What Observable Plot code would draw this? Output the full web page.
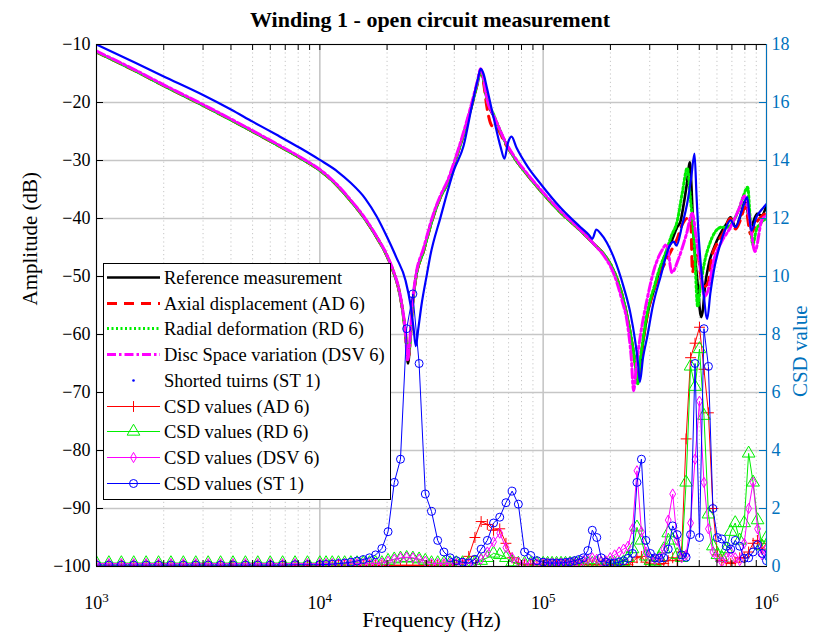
<!DOCTYPE html>
<html><head><meta charset="utf-8">
<script src="https://cdn.jsdelivr.net/npm/d3@7"></script>
<script src="https://cdn.jsdelivr.net/npm/@observablehq/plot@0.6"></script>
<style>
body{margin:0;background:#fff;}
#wrap{position:relative;width:825px;height:635px;font-family:"Liberation Serif",serif;}
#title{position:absolute;left:0;width:860px;top:7px;text-align:center;font-weight:bold;font-size:22px;line-height:26px;}
#legend{position:absolute;left:103px;top:263px;}
</style></head><body>
<div id="wrap"><div id="title">Winding 1 - open circuit measurement</div></div>
<script>
// ---------- tick values / labels ----------
const xMajorTicks = [1000, 10000, 100000, 1000000];
const xTickExponents = ["3", "4", "5", "6"];
const xMinorTicks = [2000,3000,4000,5000,6000,7000,8000,9000,20000,30000,40000,50000,60000,70000,80000,90000,200000,300000,400000,500000,600000,700000,800000,900000];
const yTicks = [-100,-90,-80,-70,-60,-50,-40,-30,-20,-10];
const csdTickLabels = ["0","2","4","6","8","10","12","14","16","18"];

// ---------- amplitude curves [Hz, dB] ----------
const refCurve = [[1000,-11.3],[1500,-14.6],[2000,-17.1],[3000,-20.5],[4000,-23.0],[5000,-25.0],[6500,-27.4],[8450,-29.9],[10000,-31.7],[11000,-33.0],[12000,-34.4],[13700,-36.9],[16000,-40.2],[18070,-43.4],[20000,-46.5],[21400,-49.3],[22500,-52.0],[23400,-55.5],[24200,-60.0],[24800,-65.0],[25400,-61.0],[26000,-55.0],[26800,-50.7],[29200,-45.5],[32000,-40.0],[34700,-36.3],[37200,-34.0],[40000,-30.5],[44100,-25.4],[47500,-21.0],[50700,-16.8],[52500,-14.5],[54000,-16.0],[56100,-19.7],[59900,-22.3],[62200,-23.7],[67000,-26.5],[73900,-29.4],[85000,-32.5],[97300,-35.2],[120000,-39.0],[147000,-42.1],[168600,-44.4],[190000,-46.5],[207000,-49.0],[225000,-53.0],[238000,-57.0],[250000,-61.5],[259000,-65.1],[265500,-68.5],[272000,-65.0],[282000,-60.5],[295000,-56.0],[313000,-52.4],[333000,-48.8],[353000,-46.1],[375000,-44.0],[398000,-41.5],[412000,-40.5],[426000,-37.5],[440000,-34.0],[454000,-30.3],[462000,-35.0],[470000,-42.1],[480000,-47.0],[490000,-50.7],[510000,-57.0],[520000,-55.5],[528000,-52.4],[552000,-47.8],[585000,-44.8],[622000,-42.6],[660000,-41.0],[690000,-39.8],[727000,-41.5],[765000,-39.5],[805000,-36.9],[848000,-41.5],[908000,-39.2],[950000,-39.5],[1000000,-37.8]];

const adCurve = [[1000,-11.3],[1500,-14.6],[2000,-17.1],[3000,-20.5],[4000,-23.0],[5000,-25.0],[6500,-27.4],[8450,-29.9],[10000,-31.7],[11000,-33.0],[12000,-34.4],[13700,-36.9],[16000,-40.2],[18070,-43.4],[20000,-46.5],[21400,-49.3],[22500,-52.0],[23400,-55.5],[24200,-60.0],[24800,-64.5],[25400,-61.0],[26000,-55.0],[26800,-50.7],[29200,-45.5],[32000,-40.0],[34700,-36.3],[37200,-34.0],[40000,-30.5],[44100,-25.4],[47500,-21.0],[50700,-16.8],[52500,-14.6],[54000,-16.5],[56100,-21.0],[58000,-23.5],[59900,-24.3],[62200,-24.5],[67000,-26.8],[73900,-29.4],[85000,-32.5],[97300,-35.2],[120000,-39.0],[147000,-42.1],[168600,-44.4],[190000,-46.5],[207000,-49.0],[225000,-53.0],[238000,-57.0],[250000,-61.5],[259000,-65.5],[265500,-68.0],[272000,-65.0],[282000,-60.5],[295000,-56.0],[313000,-52.4],[333000,-49.5],[353000,-47.5],[375000,-45.5],[398000,-43.5],[420000,-41.0],[440000,-40.0],[458000,-40.3],[466000,-49.3],[478000,-47.0],[492000,-46.3],[510000,-50.5],[530000,-51.7],[548000,-51.0],[570000,-46.5],[597000,-44.5],[640000,-42.5],[690000,-40.0],[727000,-41.8],[760000,-40.5],[805000,-38.0],[848000,-42.7],[908000,-40.5],[1000000,-39.0]];

const rdCurve = [[1000,-11.3],[1500,-14.6],[2000,-17.1],[3000,-20.5],[4000,-23.0],[5000,-25.0],[6500,-27.4],[8450,-29.9],[10000,-31.7],[11000,-33.0],[12000,-34.4],[13700,-36.9],[16000,-40.2],[18070,-43.4],[20000,-46.5],[21400,-49.3],[22500,-52.0],[23400,-55.5],[24200,-60.0],[24800,-64.0],[25400,-61.0],[26000,-55.0],[26800,-50.7],[29200,-45.5],[32000,-40.0],[34700,-36.3],[37200,-34.0],[40000,-30.5],[44100,-25.4],[47500,-21.0],[50700,-16.8],[52500,-14.5],[54000,-16.0],[56100,-19.5],[59900,-22.0],[62200,-23.6],[67000,-26.5],[73900,-29.4],[85000,-32.5],[97300,-35.2],[120000,-39.0],[147000,-42.1],[168600,-44.4],[190000,-46.5],[207000,-49.0],[225000,-53.0],[238000,-57.0],[250000,-61.5],[259000,-65.5],[265000,-68.5],[272000,-64.5],[282000,-60.0],[295000,-55.5],[313000,-52.0],[333000,-48.5],[353000,-46.0],[375000,-43.0],[398000,-40.5],[420000,-35.5],[442000,-31.3],[455000,-36.0],[475000,-44.5],[492000,-55.2],[505000,-52.0],[528000,-47.5],[555000,-44.5],[587000,-42.4],[630000,-41.5],[667000,-41.5],[720000,-40.0],[760000,-38.0],[790000,-36.0],[824000,-34.6],[845000,-40.0],[868000,-44.5],[900000,-42.0],[937000,-40.9],[1000000,-40.0]];

const dsvCurve = [[1000,-11.15],[1500,-14.45],[2000,-16.95],[3000,-20.35],[4000,-22.85],[5000,-24.85],[6500,-27.25],[8450,-29.75],[10000,-31.55],[11000,-32.85],[12000,-34.25],[13700,-36.75],[16000,-40.05],[18070,-43.25],[20000,-46.35],[21400,-49.15],[22500,-51.85],[23400,-55.3],[24200,-59.8],[24700,-64.5],[25300,-61.0],[26000,-54.5],[26800,-50.3],[29200,-45.0],[32000,-39.6],[34700,-36.0],[37200,-33.6],[40000,-30.2],[44100,-25.0],[47500,-20.6],[50700,-16.4],[52500,-14.2],[54000,-15.8],[56100,-19.5],[59900,-22.2],[62200,-23.6],[67000,-26.4],[73900,-29.2],[85000,-32.3],[97300,-35.0],[120000,-38.8],[147000,-42.0],[168600,-44.4],[190000,-46.8],[207000,-49.5],[225000,-54.0],[238000,-58.0],[248000,-64.0],[254000,-69.7],[262000,-65.0],[273000,-60.0],[290000,-54.5],[315000,-48.6],[340000,-45.5],[357000,-44.5],[377000,-49.3],[404000,-46.9],[438000,-42.7],[466000,-39.1],[482000,-42.7],[501000,-47.5],[528000,-53.4],[548000,-52.3],[578000,-47.5],[630000,-44.0],[690000,-41.5],[750000,-38.5],[797000,-36.1],[840000,-40.0],[887000,-45.7],[953000,-40.3],[1000000,-39.5]];

const stCurve = [[1000,-10.0],[1500,-13.2],[2000,-15.5],[3000,-18.7],[4000,-21.2],[5000,-23.3],[6500,-25.7],[8200,-27.9],[10000,-29.9],[12000,-31.9],[13700,-33.8],[16000,-36.6],[18000,-39.7],[20000,-43.2],[22000,-46.7],[24200,-50.7],[25500,-55.0],[26300,-59.0],[26900,-62.0],[27600,-59.0],[28500,-55.0],[30200,-49.5],[31200,-46.5],[34700,-39.8],[40000,-31.5],[44000,-27.5],[48000,-20.5],[51000,-16.0],[52500,-14.2],[54000,-15.0],[56000,-17.5],[59900,-22.5],[64500,-27.7],[67100,-29.7],[69500,-27.0],[72200,-25.9],[76000,-27.8],[85000,-31.0],[97300,-34.0],[120000,-38.2],[147000,-41.5],[160000,-42.8],[166000,-43.5],[173000,-41.9],[180000,-42.5],[207000,-46.7],[230000,-52.0],[246000,-56.4],[258000,-61.0],[266000,-65.0],[271000,-68.2],[280000,-64.0],[292000,-60.5],[310000,-55.0],[335000,-50.1],[372000,-44.4],[385000,-44.0],[395000,-44.7],[420000,-41.0],[441000,-37.5],[460000,-33.0],[476000,-28.8],[486000,-36.0],[495000,-42.1],[508000,-48.0],[520000,-52.0],[543000,-57.3],[560000,-53.0],[581000,-49.0],[620000,-44.5],[660000,-41.5],[690000,-40.3],[727000,-41.5],[770000,-39.0],[820000,-36.3],[855000,-42.1],[908000,-39.5],[950000,-38.5],[1000000,-37.5]];

// ---------- CSD values (right axis) ----------
const csdFreq = [1000,1136,1292,1468,1668,1896,2154,2448,2783,3162,3594,4084,4642,5275,5995,6813,7743,8799,
10000,10661,11365,12115,12915,13768,14678,15647,16681,17783,18957,20210,21544,22967,24484,26102,27826,29664,31623,33711,35938,38312,40842,43541,46416,49482,52750,56234,59948,63908,68129,72629,77426,82540,87992,93804,
100000,104713,109648,114815,120226,125893,131826,138038,144544,151356,158489,165959,173780,181970,190546,199526,208930,218776,229087,239883,251189,263027,275423,288403,301995,316228,331131,346737,363078,380189,398107,416869,436516,457088,478630,501187,524807,549541,575440,602560,630957,660693,691831,724436,758578,794328,831764,870964,912011,954993,1000000];

const csdAD = [0.04,0.04,0.04,0.04,0.04,0.04,0.04,0.04,0.04,0.04,0.04,0.04,0.04,0.04,0.04,0.04,0.04,0.04,
0.04,0.04,0.04,0.04,0.04,0.04,0.04,0.04,0.04,0.04,0.04,0.04,0.04,0.04,0.04,0.04,0.04,0.04,0.04,0.04,0.04,0.04,0.08,0.12,0.35,1.0,1.55,1.45,1.25,1.3,0.8,0.3,0.12,0.06,0.06,0.06,
0.06,0.06,0.06,0.06,0.06,0.06,0.06,0.06,0.06,0.06,0.06,0.06,0.06,0.06,0.06,0.06,0.06,0.06,0.06,0.06,0.15,0.3,0.35,0.15,0.08,0.08,0.08,0.1,0.2,0.3,0.2,0.5,4.4,7.2,7.7,8.25,6.8,5.3,2.0,0.4,0.2,0.15,0.1,0.15,0.3,0.3,0.5,0.8,0.9,0.6,0.8];

const csdRD = [0.12,0.12,0.12,0.12,0.12,0.12,0.12,0.12,0.12,0.12,0.12,0.12,0.12,0.12,0.12,0.12,0.12,0.12,
0.12,0.12,0.12,0.12,0.12,0.12,0.12,0.12,0.12,0.12,0.12,0.2,0.25,0.28,0.3,0.28,0.25,0.2,0.12,0.12,0.12,0.12,0.12,0.12,0.12,0.12,0.2,0.3,0.45,0.4,0.3,0.15,0.1,0.1,0.1,0.1,
0.1,0.1,0.1,0.1,0.1,0.1,0.1,0.1,0.1,0.1,0.1,0.1,0.1,0.1,0.1,0.1,0.1,0.1,0.15,0.3,0.6,1.35,0.9,0.35,0.2,0.15,0.3,0.6,1.15,0.9,0.4,0.3,2.9,6.9,6.2,7.5,5.2,1.8,0.7,0.4,0.3,0.6,1.2,1.5,0.9,1.5,3.9,2.9,1.6,0.7,1.0];

const csdDSV = [0.1,0.1,0.1,0.1,0.1,0.1,0.1,0.1,0.1,0.1,0.1,0.1,0.1,0.1,0.1,0.1,0.1,0.1,
0.1,0.1,0.1,0.1,0.1,0.1,0.1,0.1,0.1,0.1,0.12,0.18,0.25,0.3,0.32,0.3,0.25,0.18,0.1,0.1,0.1,0.1,0.1,0.1,0.1,0.12,0.25,0.5,0.85,1.15,0.65,0.3,0.15,0.1,0.1,0.1,
0.12,0.12,0.12,0.12,0.12,0.12,0.12,0.12,0.12,0.2,0.25,0.3,0.25,0.18,0.2,0.3,0.4,0.5,0.6,0.7,1.3,3.3,1.2,0.5,0.3,0.25,0.3,0.6,1.6,2.5,0.9,0.3,0.4,1.5,3.7,5.7,2.9,1.3,0.5,0.3,0.15,0.3,0.5,0.3,0.2,0.8,2.0,2.9,1.3,0.4,0.6];

const csdST = [0.05,0.05,0.05,0.05,0.05,0.05,0.05,0.05,0.05,0.05,0.05,0.05,0.05,0.05,0.05,0.05,0.06,0.06,
0.06,0.07,0.08,0.1,0.12,0.15,0.19,0.24,0.3,0.4,0.62,1.2,2.9,3.7,8.2,9.4,7.0,2.5,1.9,0.9,0.5,0.3,0.2,0.15,0.12,0.25,0.6,0.9,1.5,1.7,2.2,2.6,2.15,0.5,0.38,0.2,
0.15,0.12,0.12,0.12,0.12,0.14,0.16,0.2,0.24,0.3,0.55,1.25,1.0,0.3,0.15,0.12,0.12,0.15,0.2,0.28,0.45,2.9,3.7,0.9,0.45,0.3,0.28,0.3,0.6,1.4,1.1,0.4,0.32,1.1,7.0,1.0,8.2,6.9,2.0,1.0,0.95,0.7,0.6,0.9,0.7,0.28,0.3,0.5,0.75,0.45,0.2];

// ---------- styles ----------
const C = {ref:"#000000", ad:"#ff0000", rd:"#00ee00", dsv:"#ff00ff", st:"#0000ff", axis2:"#0072BD", grid:"#c6c6c6"};
const W = 825, H = 635, ML = 96, MR = 59, MT = 44, MB = 69;
const FW = W - ML - MR, FH = H - MT - MB;

const toRows = arr => arr.map(([f, db]) => ({f, db}));
// right axis: CSD value v sits where the left axis reads -100 + 5 v (0..18 <-> -100..-10)
const csdRows = vals => csdFreq.map((f, i) => ({f, db: -100 + 5 * vals[i]}));

const ref = toRows(refCurve), ad = toRows(adCurve), rd = toRows(rdCurve), dsv = toRows(dsvCurve), st = toRows(stCurve);
const cAD = csdRows(csdAD), cRD = csdRows(csdRD), cDSV = csdRows(csdDSV), cST = csdRows(csdST);

const csdSeries = [
  {rows: cAD, color: C.ad, symbol: "plus", r: 3.6},
  {rows: cRD, color: C.rd, symbol: "triangle", r: 4.7},
  {rows: cDSV, color: C.dsv, symbol: "diamond", r: 3.1},
  {rows: cST, color: C.st, symbol: "circle", r: 4}
];
const smooth = "monotone-x";

const chart = Plot.plot({
  width: W, height: H,
  marginLeft: ML, marginRight: MR, marginTop: MT, marginBottom: MB,
  style: {fontFamily: "Liberation Serif, serif", fontSize: "18px", background: "transparent", overflow: "visible"},
  x: {type: "log", domain: [1e3, 1e6]},
  y: {domain: [-100, -10]},
  marks: [
    Plot.ruleX(xMinorTicks, {stroke: C.grid, strokeDasharray: "1.2,3", strokeWidth: 1}),
    Plot.ruleX(xMajorTicks, {stroke: C.grid, strokeWidth: 1.6}),
    Plot.ruleY(yTicks, {stroke: C.grid, strokeWidth: 1.6}),
    Plot.line(ref, {x: "f", y: "db", stroke: C.ref, strokeWidth: 2.6, curve: smooth, clip: true}),
    Plot.line(ad, {x: "f", y: "db", stroke: C.ad, strokeWidth: 3, strokeDasharray: "10,7", curve: smooth, clip: true}),
    Plot.line(rd, {x: "f", y: "db", stroke: C.rd, strokeWidth: 3, strokeDasharray: "2,2.5", curve: smooth, clip: true}),
    Plot.line(dsv, {x: "f", y: "db", stroke: C.dsv, strokeWidth: 3, strokeDasharray: "9,3,2.5,3", curve: smooth, clip: true}),
    Plot.line(st, {x: "f", y: "db", stroke: C.st, strokeWidth: 2.2, curve: smooth, clip: true}),
    ...csdSeries.flatMap(s => [
      Plot.line(s.rows, {x: "f", y: "db", stroke: s.color, strokeWidth: 1, clip: true}),
      Plot.dot(s.rows, {x: "f", y: "db", symbol: s.symbol, r: s.r, stroke: s.color, fill: "none", strokeWidth: 1, clip: true})
    ]),
    // inward ticks
    Plot.tickY(yTicks, {y: d => d, stroke: "black", insetRight: FW - 7}),
    Plot.tickY(yTicks, {y: d => d, stroke: C.axis2, insetLeft: FW - 7}),
    Plot.tickX(xMajorTicks.concat(xMinorTicks), {x: d => d, stroke: "black", insetTop: FH - 6}),
    Plot.tickX(xMajorTicks.concat(xMinorTicks), {x: d => d, stroke: "black", insetBottom: FH - 6}),
    // axes labels
    Plot.axisY(yTicks, {anchor: "left", tickSize: 0, tickPadding: 6, label: null, tickFormat: d => d3.format("d")(d)}),
    Plot.axisY(yTicks, {anchor: "right", tickSize: 0, tickPadding: 5, label: null, color: C.axis2,
      tickFormat: d => csdTickLabels[yTicks.indexOf(d)]}),
    Plot.axisX(xMajorTicks, {anchor: "bottom", tickSize: 0, tickPadding: 30, label: null,
      tickFormat: d => "10^" + xTickExponents[xMajorTicks.indexOf(d)]}),
    Plot.frame({stroke: "black", strokeWidth: 1}),
    Plot.ruleX([1e6], {stroke: C.axis2, strokeWidth: 1}),
    Plot.text(["Amplitude (dB)"], {frameAnchor: "left", rotate: -90, dx: -66, fontSize: 21}),
    Plot.text(["CSD value"], {frameAnchor: "right", rotate: -90, dx: 34, fontSize: 21, fill: C.axis2}),
    Plot.text(["Frequency (Hz)"], {frameAnchor: "bottom", dy: 60, fontSize: 22})
  ]
});
// turn "10^n" tick labels into 10 with a raised exponent
d3.select(chart).selectAll("text").each(function () {
  const t = this.textContent;
  const m = /^10\^(\d)$/.exec(t);
  if (m) {
    const sel = d3.select(this);
    sel.text("10");
    sel.append("tspan").attr("dy", "-0.55em").attr("font-size", "13px").text(m[1]);
  }
});
const wrap = document.getElementById("wrap");
wrap.insertBefore(chart, wrap.firstChild);

// ---------- legend ----------
const legendItems = [
  {label: "Reference measurement", color: C.ref, width: 2.6, dash: null},
  {label: "Axial displacement (AD 6)", color: C.ad, width: 3, dash: "10,7"},
  {label: "Radial deformation (RD 6)", color: C.rd, width: 3, dash: "2,2.5"},
  {label: "Disc Space variation (DSV 6)", color: C.dsv, width: 3, dash: "9,3,2.5,3"},
  {label: "Shorted tuirns (ST 1)", color: C.st, point: true},
  {label: "CSD values (AD 6)", color: C.ad, width: 1, symbol: d3.symbolPlus, r: 3.6},
  {label: "CSD values (RD 6)", color: C.rd, width: 1, symbol: d3.symbolTriangle, r: 4.7},
  {label: "CSD values (DSV 6)", color: C.dsv, width: 1, symbol: d3.symbolDiamond, r: 3.1},
  {label: "CSD values (ST 1)", color: C.st, width: 1, symbol: d3.symbolCircle, r: 4}
];
const LW = 287, LH = 236, rowH = 25.7;
const lsvg = d3.create("svg").attr("id", "legend").attr("width", LW + 1).attr("height", LH + 1)
  .style("position", "absolute").style("left", "103px").style("top", "263px")
  .style("font-family", "Liberation Serif, serif").style("font-size", "18.5px");
lsvg.append("rect").attr("x", 0.5).attr("y", 0.5).attr("width", LW).attr("height", LH)
  .attr("fill", "white").attr("stroke", "black");
legendItems.forEach((it, i) => {
  const y = Math.round(14 + i * rowH) + 0.5;
  const g = lsvg.append("g").attr("transform", `translate(0,${y})`);
  if (it.point) {
    g.append("circle").attr("cx", 30.5).attr("cy", 0).attr("r", 1.3).attr("fill", it.color);
  } else {
    const line = g.append("line").attr("x1", 4).attr("x2", 57).attr("y1", 0).attr("y2", 0)
      .attr("stroke", it.color).attr("stroke-width", it.width);
    if (it.dash) line.attr("stroke-dasharray", it.dash);
    if (it.symbol) {
      g.append("path").attr("transform", "translate(30.5,0)")
        .attr("d", d3.symbol(it.symbol, Math.PI * it.r * it.r)())
        .attr("fill", "none").attr("stroke", it.color).attr("stroke-width", 1);
    }
  }
  g.append("text").attr("x", 61).attr("y", 0).attr("dy", "0.35em").attr("fill", "black").text(it.label);
});
wrap.appendChild(lsvg.node());
</script>
</body></html>
